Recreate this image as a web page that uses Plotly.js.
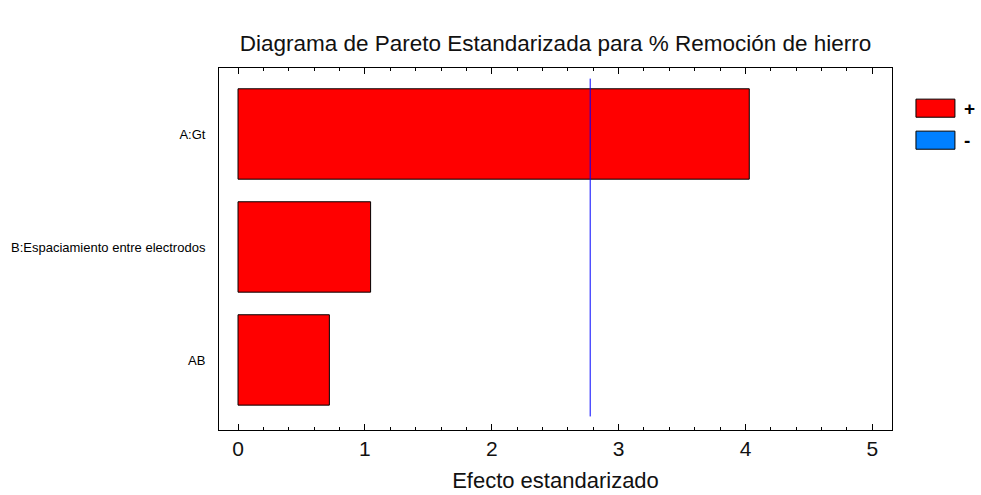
<!DOCTYPE html>
<html>
<head>
<meta charset="utf-8">
<script src="https://cdn.plot.ly/plotly-3.0.1.min.js"></script>
<style>html,body{margin:0;padding:0;background:#fff;}#chart{width:981px;height:495px;}</style>
</head>
<body>
<div id="chart"></div>
<script>
// Data
var factors = ["A:Gt", "B:Espaciamiento entre electrodos", "AB"];
var effects = [4.03, 1.045, 0.72];
var signs = ["+", "+", "+"];
var criticalValue = 2.776;
var legendLabels = ["+", "-"];
var legendColors = ["#FF0000", "#0080FF"];
var xTicks = [0, 1, 2, 3, 4, 5];

var positions = factors.map(function(_, i){ return i; });
var barColors = signs.map(function(s){ return s === "+" ? legendColors[0] : legendColors[1]; });

var traces = [{
  type: "bar",
  orientation: "h",
  x: effects,
  y: positions,
  width: 0.8,
  base: 0,
  marker: {color: barColors, line: {color: "#000000", width: 1}},
  showlegend: false,
  hoverinfo: "x+text",
  text: factors,
  textposition: "none"
}];

var shapes = [{
  type: "line", xref: "x", yref: "y",
  x0: criticalValue, x1: criticalValue, y0: -0.49, y1: 2.5,
  line: {color: "#0000FF", width: 1}
}];
var annotations = [];
legendLabels.forEach(function(lbl, i){
  var top = 0.914 - i * 0.0884;
  shapes.push({type: "rect", xref: "paper", yref: "paper",
    x0: 1.0356, x1: 1.0935, y0: top - 0.05, y1: top,
    fillcolor: legendColors[i], line: {color: "#000000", width: 1}});
  annotations.push({xref: "paper", yref: "paper", x: 1.104, y: top - 0.025,
    xanchor: "left", yanchor: "middle", text: "<b>" + lbl + "</b>", showarrow: false,
    font: {family: "Liberation Sans, Arial, sans-serif", size: 19, color: "#000"}});
});

var layout = {
  width: 981, height: 495,
  margin: {l: 219, r: 89, t: 68, b: 65},
  paper_bgcolor: "#fff", plot_bgcolor: "#fff",
  font: {family: "Liberation Sans, Arial, sans-serif", color: "#000"},
  title: {text: "Diagrama de Pareto Estandarizada para % Remoción de hierro",
    font: {size: 22.5, color: "#111"}, xref: "paper", x: 0.5, xanchor: "center", y: 0.912, yanchor: "middle"},
  xaxis: {
    range: [-0.15, 5.155], tickvals: xTicks, ticks: "inside", ticklen: 6, tickcolor: "#000",
    showline: true, linecolor: "#000", linewidth: 1, mirror: "allticks",
    showgrid: false, zeroline: false,
    tickfont: {size: 21, color: "#111"},
    minor: {dtick: 0.2, ticks: "inside", ticklen: 3, tickcolor: "#000", showgrid: false},
    title: {text: "Efecto estandarizado", font: {size: 22, color: "#111"}, standoff: 13}
  },
  yaxis: {
    range: [2.62, -0.584], tickvals: positions, ticktext: factors,
    ticks: "", showline: true, linecolor: "#000", linewidth: 1, mirror: true,
    showgrid: false, zeroline: false, tickfont: {size: 13}, ticklabelstandoff: 10
  },
  shapes: shapes,
  annotations: annotations,
  showlegend: false
};

Plotly.newPlot("chart", traces, layout, {displayModeBar: false, staticPlot: true});
</script>
</body>
</html>
